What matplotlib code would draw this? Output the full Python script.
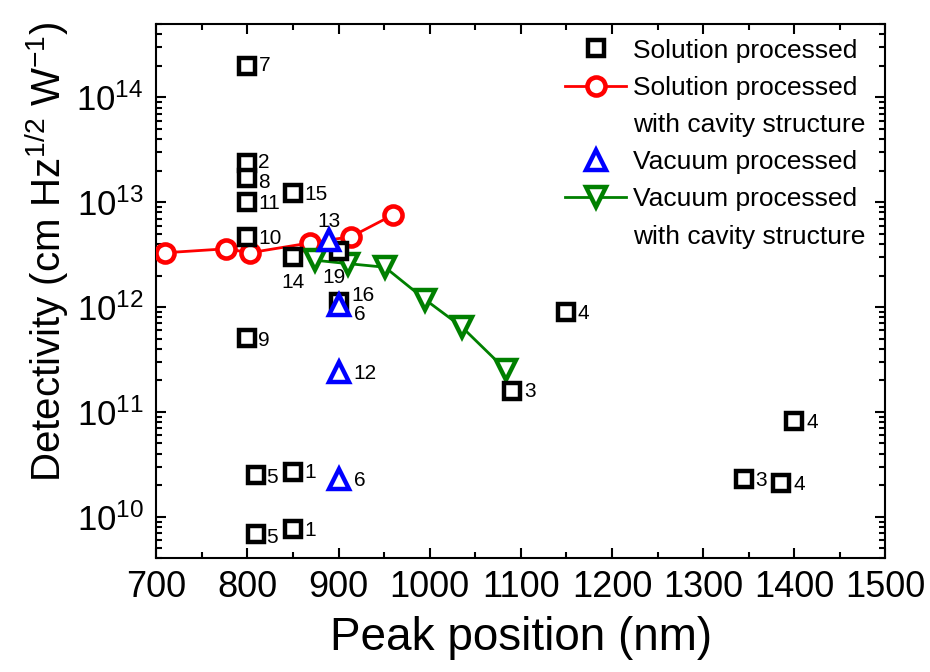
import numpy as np
import matplotlib
matplotlib.use("Agg")
from matplotlib import pyplot as plt
from matplotlib.lines import Line2D
from matplotlib.ticker import MultipleLocator, LogLocator, NullFormatter

plt.rcParams['font.family'] = ['Liberation Sans', 'DejaVu Sans']
plt.rcParams['mathtext.fontset'] = 'custom'
plt.rcParams['mathtext.rm'] = 'Liberation Sans'
plt.rcParams['mathtext.it'] = 'Liberation Sans:italic'
plt.rcParams['mathtext.default'] = 'regular'

#================ DATA ================
# solution processed (black squares) + reference numbers
sol_x = [800, 800, 800, 800, 850, 800, 850, 900, 900, 800,
         1150, 1090, 1400, 1345, 1385, 810, 850, 810, 850]
sol_y = [2.0e14, 2.38e13, 1.71e13, 1.01e13, 1.23e13, 4.7e12, 3.0e12, 3.4e12, 1.13e12, 5.1e11,
         8.9e11, 1.6e11, 8.1e10, 2.3e10, 2.1e10, 2.5e10, 2.65e10, 6.8e9, 7.6e9]
sol_ref = ['7', '2', '8', '11', '15', '10', '14', '19', '16', '9',
           '4', '3', '4', '3', '4', '5', '1', '5', '1']

# solution processed with cavity structure (red)
cav_sol_x = [710, 777, 803, 869, 914, 960]
cav_sol_y = [3.3e12, 3.6e12, 3.3e12, 4.1e12, 4.7e12, 7.6e12]

# vacuum processed (blue triangles)
vac_x = [890, 900, 900, 900]
vac_y = [4.4e12, 1.05e12, 2.4e11, 2.3e10]
vac_ref = ['13', '6', '12', '6']

# vacuum processed with cavity structure (green)
cav_vac_x = [874, 910, 951, 995, 1035, 1084]
cav_vac_y = [2.8e12, 2.6e12, 2.4e12, 1.18e12, 6.5e11, 2.5e11]

# label offsets (points) for the reference numbers
sol_off = [(8, 0), (8, 0), (8, -3), (8, -1), (8, -1), (8, -1), (0, -18), (-3, -19), (9, 4), (8, -2),
           (8, -1), (9, -1), (9, -1), (8, -1), (9, -1), (7, -2), (8, 0), (7, -2), (8, -1)]
sol_ha = ['left'] * 6 + ['center', 'center'] + ['left'] * 11
vac_off = [(0, 13), (11, -7), (11, -1), (11, -1)]
vac_ha = ['center', 'left', 'left', 'left']

#================ PLOT ================
fig = plt.figure(figsize=(9.3, 6.72), dpi=100)
ax = fig.add_axes([0.168, 0.169, 0.784, 0.795])

red_style = dict(color='red', lw=2, marker='o', ms=13, mfc='white', mec='red', mew=3.3)
green_style = dict(color='green', lw=2, marker='v', ms=15, mfc='white', mec='green', mew=3.2)
sq_style = dict(linestyle='none', marker='s', ms=11.5, mfc='white', mec='black', mew=3.2)
blue_style = dict(linestyle='none', marker='^', ms=14, mfc='white', mec='blue', mew=3.2)

ax.plot(cav_sol_x, cav_sol_y, zorder=3, **red_style)
ax.plot(cav_vac_x, cav_vac_y, zorder=3, **green_style)
ax.plot(sol_x, sol_y, zorder=4, **sq_style)
ax.plot(vac_x, vac_y, zorder=5, **blue_style)

for x, y, t, o, h in zip(sol_x, sol_y, sol_ref, sol_off, sol_ha):
    ax.annotate(t, (x, y), xytext=o, textcoords='offset points', ha=h, va='center',
                fontsize=15, zorder=6)
for x, y, t, o, h in zip(vac_x, vac_y, vac_ref, vac_off, vac_ha):
    ax.annotate(t, (x, y), xytext=o, textcoords='offset points', ha=h, va='center',
                fontsize=15, zorder=6)

ax.set_yscale('log')
ax.set_xlim(700, 1500)
ax.set_ylim(4e9, 5e14)
ax.xaxis.set_major_locator(MultipleLocator(100))
ax.xaxis.set_minor_locator(MultipleLocator(50))
ax.yaxis.set_major_locator(LogLocator(base=10, numticks=20))
ax.yaxis.set_minor_locator(LogLocator(base=10, subs=np.arange(2, 10), numticks=20))
ax.yaxis.set_minor_formatter(NullFormatter())

ax.tick_params(which='both', direction='in', top=True, right=True, width=1.5)
ax.tick_params(which='major', length=7)
ax.tick_params(axis='x', which='major', pad=8, labelsize=26)
ax.tick_params(axis='y', which='major', pad=9, labelsize=25)
ax.tick_params(which='minor', length=4)
for s in ax.spines.values():
    s.set_linewidth(1.5)

ax.set_xlabel('Peak position (nm)', fontsize=33, labelpad=8)
ax.set_ylabel(r'Detectivity (cm Hz$^{1/2}$ W$^{-1}$)', fontsize=29)
ax.yaxis.set_label_coords(-0.117, 0.575)

blank = Line2D([], [], linestyle='none', marker='none')
handles = [
    Line2D([], [], **sq_style),
    Line2D([], [], **red_style),
    blank,
    Line2D([], [], **blue_style),
    Line2D([], [], **green_style),
    blank,
]
labels = ['Solution processed', 'Solution processed', 'with cavity structure',
          'Vacuum processed', 'Vacuum processed', 'with cavity structure']
ax.legend(handles, labels, loc='upper right', bbox_to_anchor=(0.992, 1.0), frameon=False,
          fontsize=19, handlelength=2.3, handletextpad=0.25, labelspacing=0.5,
          borderaxespad=0.15, numpoints=1)

plt.savefig('out.png', dpi=100)
